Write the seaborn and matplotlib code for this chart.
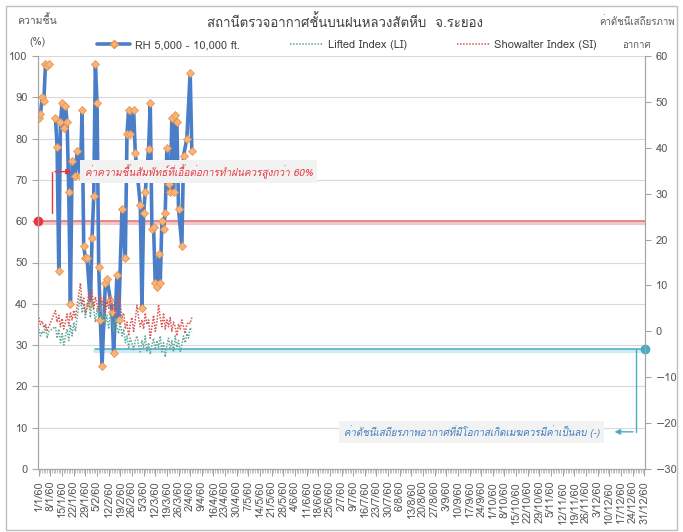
import numpy as np
import pandas as pd
import matplotlib
matplotlib.use("Agg")
import matplotlib.pyplot as plt
from matplotlib import font_manager
from matplotlib.ft2font import FT2Font
from matplotlib.lines import Line2D
from matplotlib.patches import Rectangle
import seaborn as sns

nan = np.nan

# RH 5,000 - 10,000 ft. (%), day of year (0 = 1/1/60)
rh_days = [0, 1, 2, 3, 4, 5, 6, 8, 10, 11, 12, 13, 14, 15, 16, 17, 18, 19, 20, 22,
           23, 25, 26, 27, 28, 29, 31, 32, 33, 34, 35, 36, 37, 38, 40, 41, 43, 44,
           45, 47, 48, 50, 52, 53, 54, 55, 57, 58, 61, 62, 63, 64, 66, 67, 68, 69,
           70, 71, 72, 73, 74, 75, 76, 77, 78, 79, 80, 81, 82, 83, 84, 86, 87, 89,
           91, 92]
rh_values = [85, 86, 90, 89, 98, 97.6, 98, nan, 85, 78, 48, 84, 88.6, 82.6, 88, 84,
             67, 40, 74.6, 71, 77, 71, 87, 54, 51, 51, 40, 56, 66, 98, 88.6, 49, 36,
             25, 45, 46, 41, 38, 28, 47, 36, 63, 51, 81, 87, 81, 87, 76.5, 64, 39, 62,
             67, 77.5, 88.6, 58, 58.6, 45, 44, 52, 45, 60, 58, 62, 77.7, 69, 67, 85,
             67, 85.7, 84, 63, 54, 75.8, 80, 96, 77]

# stability indices, daily from 1/1/60
li_values = [0.5, -1.0, 0.0, -0.5, 1.0, -1.5, 0.0, nan, nan, nan,
             1.0, -1.5, 0.5, -2.5, -0.5, -3.0, -1.0, 0.5, -2.0, 1.5,
             -1.0, 2.0, 0.0, 3.0, 5.5, 7.5, 4.0, 6.0, 3.0, 5.0,
             6.5, 3.0, 7.0, 4.5, 2.0, 5.0, 3.0, 6.0, 2.5, 4.0,
             1.5, 3.5, 0.5, 4.0, 2.0, 0.0, 3.0, 1.0, -0.5, 2.0,
             -1.0, 0.5, -2.5, -1.0, -3.5, -1.5, -2.5, -4.0, -2.0, -1.0,
             -3.0, -4.5, -2.0, -3.6, -1.0, -4.5, -2.5, -5.0, -3.0, -1.5,
             -4.0, -2.0, -3.5, -1.0, -4.5, -2.5, -5.6, -3.0, -1.5, -4.0,
             -2.0, -4.5, -1.0, -3.5, -2.0, -4.5, -3.0, -1.0, -2.5, -0.5,
             -1.5, 0.8, 0.0]
si_values = [3.0, 1.5, 2.2, 0.8, 1.6, 0.2, 1.0, nan, nan, nan,
             4.5, 2.0, 3.5, 1.0, 2.8, 0.5, 2.0, 3.8, 1.2, 4.2,
             2.5, 4.6, 3.0, 5.5, 8.0, 10.5, 6.0, 7.2, 4.0, 5.5,
             8.3, 6.5, 9.0, 5.0, 7.5, 6.0, 4.5, 8.0, 5.5, 7.5,
             4.0, 6.5, 5.0, 7.5, 4.5, 6.0, 3.5, 5.0, 8.0, 6.0,
             3.0, 4.0, 0.5, 2.0, -1.0, 1.5, 3.0, 0.0, 2.5, 5.7,
             3.0, 1.0, 2.5, 0.5, 4.0, 1.5, 2.5, -1.5, 1.0, 3.5,
             0.0, 2.0, 5.8, 3.0, 1.0, 4.0, 0.5, 2.5, 1.0, 3.0,
             0.0, 2.0, 1.0, -1.0, 1.5, 0.5, 2.5, 1.0, -0.5, 1.5,
             2.0, 1.7, 3.0]

tick_labels = ["1/1/60", "8/1/60", "15/1/60", "22/1/60", "29/1/60", "5/2/60", "12/2/60",
               "19/2/60", "26/2/60", "5/3/60", "12/3/60", "19/3/60", "26/3/60", "2/4/60",
               "9/4/60", "16/4/60", "23/4/60", "30/4/60", "7/5/60", "14/5/60", "21/5/60",
               "28/5/60", "4/6/60", "11/6/60", "18/6/60", "25/6/60", "2/7/60", "9/7/60",
               "16/7/60", "23/7/60", "30/7/60", "6/8/60", "13/8/60", "20/8/60", "27/8/60",
               "3/9/60", "10/9/60", "17/9/60", "24/9/60", "1/10/60", "8/10/60", "15/10/60",
               "22/10/60", "29/10/60", "5/11/60", "12/11/60", "19/11/60", "26/11/60",
               "3/12/60", "10/12/60", "17/12/60", "24/12/60", "31/12/60"]

rh_threshold = 60
index_threshold_rh = 29  # cyan guide drawn on the RH scale


def find_thai_font():
    for fe in font_manager.fontManager.ttflist:
        try:
            if 0x0E2A in FT2Font(fe.fname).get_charmap():
                return fe.name
        except Exception:
            continue
    return None


sns.set_style("white")
thai = find_thai_font()
families = [thai, "DejaVu Sans"] if thai else ["DejaVu Sans"]
plt.rcParams["font.family"] = families

BLUE = "#4A7EC8"
ORANGE = "#F9B27A"
TEAL = "#4BACC6"
GREEN = "#5FA89A"
RED = "#D9534F"
GRID = "#D9D9D9"
AXC = "#A6A6A6"
TXT = "#595959"

fig = plt.figure(figsize=(6.83, 5.32), dpi=100)
ax = fig.add_axes([38 / 683, 1 - 469 / 532, 607 / 683, 413 / 532])
ax2 = ax.twinx()

# RH series, split at gaps
rh = pd.DataFrame({"day": rh_days, "rh": rh_values})
rh["seg"] = rh["rh"].isna().cumsum()
rh = rh.dropna()
sns.lineplot(data=rh, x="day", y="rh", units="seg", estimator=None, ax=ax,
             color=BLUE, lw=2.6, marker="D", markersize=4.5, markerfacecolor=ORANGE,
             markeredgecolor="#E8964A", markeredgewidth=0.6, legend=False, zorder=5)

idx = pd.DataFrame({"day": np.arange(len(li_values)), "li": li_values, "si": si_values})
sns.lineplot(data=idx, x="day", y="li", ax=ax2, color=GREEN, lw=1.1,
             linestyle=(0, (1, 1)), legend=False)
sns.lineplot(data=idx, x="day", y="si", ax=ax2, color=RED, lw=1.1,
             linestyle=(0, (1, 1)), legend=False)

# guide lines
ax.axhline(rh_threshold - 0.5, color="#F4C7C7", lw=3, zorder=2)
ax.axhline(rh_threshold, color="#E07070", lw=1.1, zorder=3)
ax.plot([-0.5], [rh_threshold], "o", color="#E8383D", ms=6, clip_on=False, zorder=6)
ax.plot([34, 364.5], [index_threshold_rh - 0.5] * 2, color="#CFEAF2", lw=3, zorder=2)
ax.plot([34, 364.5], [index_threshold_rh, index_threshold_rh], color=TEAL, lw=1.1, zorder=3)
ax.plot([364.5], [index_threshold_rh], "o", color=TEAL, ms=6, clip_on=False, zorder=6)

# annotations
ax.annotate("", xy=(21.5, 72), xytext=(8, 72), zorder=7,
            arrowprops=dict(arrowstyle="-|>", color="#E8383D", lw=1, mutation_scale=8))
ax.plot([8, 8], [62, 72], color="#E8383D", lw=1, zorder=7)
ax.text(27.5, 72, "ค่าความชื้นสัมพัทธ์ที่เอื้อต่อการทำฝนควรสูงกว่า 60%", color="#E8383D",
        fontsize=7.2, style="italic", va="center", ha="left", zorder=7,
        bbox=dict(boxstyle="square,pad=0.45", fc="#F2F2F2", ec="none"))

ax.plot([359, 359], [index_threshold_rh, 9], color=TEAL, lw=1, zorder=7)
ax.annotate("", xy=(344.5, 9), xytext=(359, 9), zorder=7,
            arrowprops=dict(arrowstyle="-|>", color=TEAL, lw=1, mutation_scale=8))
ax.text(337, 9, "ค่าดัชนีเสถียรภาพอากาศที่มีโอกาสเกิดเมฆควรมีค่าเป็นลบ (-)", color="#3A7DC0",
        fontsize=7, style="italic", va="center", ha="right", zorder=7,
        bbox=dict(boxstyle="square,pad=0.45", fc="#F2F2F2", ec="none"))

# axes
ax.set_xlim(-0.5, 364.5)
ax.set_ylim(0, 100)
ax2.set_ylim(-30, 60)
ax.set_yticks(np.arange(0, 101, 10))
ax2.set_yticks(np.arange(-30, 61, 10))
ax.set_xticks(np.arange(0, 365, 7))
ax.set_xticklabels(tick_labels, rotation=90, fontsize=7.8, color=TXT)
ax.set_xticks(np.arange(0, 365, 1), minor=True)
ax.set_xlabel("")
ax.set_ylabel("")
ax2.set_ylabel("")
ax.yaxis.grid(True, color=GRID, lw=0.8)
ax.set_axisbelow(True)
ax.tick_params(axis="y", labelsize=8, colors=TXT, length=4, color=AXC, left=True)
ax2.tick_params(axis="y", labelsize=8, colors=TXT, length=4, color=AXC, right=True)
ax.tick_params(axis="x", which="major", length=5, color=AXC, bottom=True)
ax.tick_params(axis="x", which="minor", length=3, color=AXC, width=0.5, bottom=True)
for a in (ax, ax2):
    a.spines["top"].set_visible(False)
    for s in ("left", "right", "bottom"):
        a.spines[s].set_color(AXC)
        a.spines[s].set_linewidth(0.8)

# titles and axis captions
fig.text(345 / 683, 1 - 22 / 532, "สถานีตรวจอากาศชั้นบนฝนหลวงสัตหีบ  จ.ระยอง", ha="center",
         va="center", fontsize=9.5, color="#404040")
fig.text(37 / 683, 1 - 20 / 532, "ความชื้น", ha="center", va="center", fontsize=7.5, color=TXT)
fig.text(37 / 683, 1 - 42 / 532, "(%)", ha="center", va="center", fontsize=7.5, color=TXT)
fig.text(637 / 683, 1 - 22 / 532, "ค่าดัชนีเสถียรภาพ", ha="center", va="center", fontsize=7,
         color=TXT)
fig.text(637 / 683, 1 - 45 / 532, "อากาศ", ha="center", va="center", fontsize=7, color=TXT)

handles = [
    Line2D([], [], color=BLUE, lw=2.6, marker="D", markersize=4.5, markerfacecolor=ORANGE,
           markeredgecolor="#E8964A"),
    Line2D([], [], color=GREEN, lw=1.1, linestyle=(0, (1, 1))),
    Line2D([], [], color=RED, lw=1.1, linestyle=(0, (1, 1))),
]
fig.legend(handles, ["RH 5,000 - 10,000 ft.", "Lifted Index (LI)", "Showalter Index (SI)"],
           loc="center", bbox_to_anchor=(347 / 683, 1 - 45 / 532), ncol=3, frameon=False,
           fontsize=8, handlelength=3.0, handletextpad=0.4, columnspacing=4.5,
           labelcolor="#404040")

fig.add_artist(Rectangle((6 / 683, 2 / 532), 671 / 683, 524 / 532, transform=fig.transFigure,
                         fill=False, ec="#BFBFBF", lw=1))

fig.savefig("out.png", dpi=100)
